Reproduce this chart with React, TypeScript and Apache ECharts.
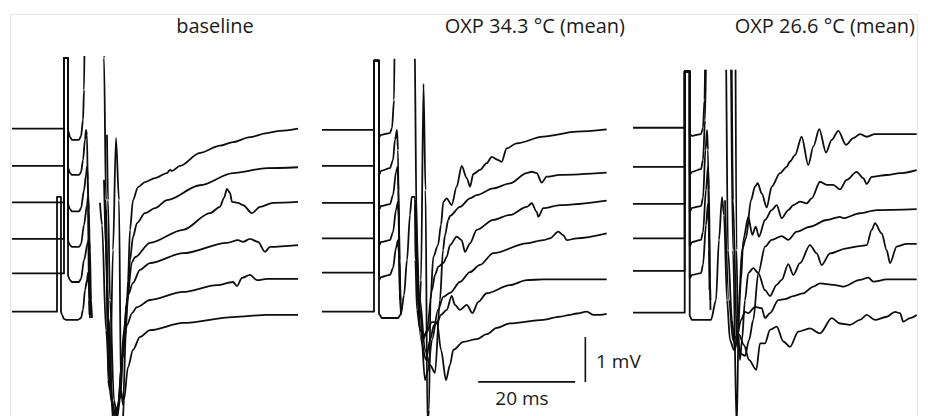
import React, { useEffect, useRef } from "react";
import * as echarts from "echarts";

type Pt = [number, number] | null;

// Panel titles
const PANEL_TITLES = ["baseline", "OXP 34.3 °C (mean)", "OXP 26.6 °C (mean)"];

// Time axis (ms) and voltage axis (mV) extents per panel
const X_MAX_MS = 59;
const Y_MIN_MV = -2.8;
const Y_MAX_MV = [5.66, 5.6, 5.38];

// Scale bar (drawn in panel 2 units)
const SCALE_MS = 20;
const SCALE_MV = 1;
const SCALE_ORIGIN: [number, number] = [32.2, -1.56];
const SCALE_GAP_MS = 2.1;

// ---------------- Panel 1: baseline ----------------
const P1_A: Pt[] = [[0,4.07],[10.72,4.07],[10.72,5.64],[11.55,5.64],[11.55,4.03],[11.96,3.88],[12.37,3.82],[13.81,3.82],[14.23,3.9],[14.64,4.26],[14.85,4.93],[15.05,7],[18.76,7],[18.97,5.64],[19.38,2.48],[19.79,-1.52],[20.21,-1.74],[20.82,1.37],[21.44,3.86],[22.06,2.48],[22.47,-1.74],[22.89,-2.07],[23.51,-0.41],[23.92,0.7],[24.33,1.82],[24.95,2.48],[25.98,2.77],[27.42,2.88],[29.48,2.97],[31.96,3.08],[32.58,3.15],[33.0,3.13],[34.64,3.24],[38.76,3.53],[42.89,3.69],[45.57,3.77],[49.07,3.88],[52.58,3.97],[55.26,4.02],[58.97,4.07]];
const P1_B: Pt[] = [[0,3.24],[10.72,3.24],[10.72,5.64],[11.55,5.64],[11.55,3.2],[11.96,3.08],[12.37,3.04],[13.81,3.04],[14.23,3.1],[14.64,3.37],[15.05,3.82],[15.26,4.04],[15.46,3.93],[15.67,2.48],[15.88,0.26],[15.98,-0.07],null,[19.59,3.93],[19.79,2.48],[20.21,0.26],[21.03,-1.96],[21.65,-2.36],[22.27,-1.96],[23.09,-0.63],[23.71,0.04],[24.33,1.15],[24.95,1.66],[25.77,1.97],[27.42,2.19],[29.48,2.3],[31.96,2.48],[38.76,2.81],[45.57,3.08],[52.58,3.19],[58.97,3.21]];
const P1_C: Pt[] = [[0,2.43],[10.72,2.43],[10.72,5.64],[11.55,5.64],[11.55,2.39],[11.96,2.28],[12.37,2.23],[13.81,2.23],[14.23,2.3],[14.85,2.7],[15.26,3.04],[15.46,3.22],[15.67,2.93],[15.88,1.37],[16.08,-0.07],null,[18.14,2.42],[18.56,1.93],[19.38,-0.41],[20.41,-1.96],[21.24,-2.29],[21.86,-2.07],[22.68,-1.07],[23.71,0.26],[24.74,1.1],[25.36,1.21],[28.45,1.53],[35.26,1.82],[40.82,2.19],[42.89,2.33],[43.71,2.53],[44.33,2.73],[44.95,2.64],[45.36,2.44],[46.6,2.42],[47.63,2.37],[49.48,2.19],[51.13,2.33],[53.81,2.42],[58.97,2.44]];
const P1_D: Pt[] = [[0,1.62],[10.72,1.62],[10.72,5.64],[11.55,5.64],[11.55,1.57],[11.96,1.48],[12.37,1.44],[13.81,1.44],[14.23,1.5],[14.85,1.93],[15.46,2.37],[15.67,2.55],[15.88,2.26],[16.08,0.7],[16.29,-0.07],null,[18.97,2.93],[19.38,1.37],[19.79,-0.41],[20.82,-2.18],[21.44,-2.52],[22.06,-1.96],[23.09,-0.41],[23.92,0.37],[24.95,0.64],[26.39,0.93],[28.45,1.08],[35.26,1.3],[44.33,1.53],[46.6,1.59],[47.63,1.55],[49.07,1.62],[50.72,1.55],[52.16,1.33],[53.2,1.44],[58.97,1.48]];
const P1_E: Pt[] = [[0,0.85],[10.72,0.85],[10.72,5.64],[11.55,5.64],[11.55,0.8],[11.96,0.7],[12.37,0.66],[13.81,0.66],[14.23,0.73],[14.85,1.15],[15.67,1.55],[15.88,1.62],[16.08,1.37],[16.29,0.26],[16.49,-0.14],null,[19.18,2.48],[19.59,0.7],[20.21,-1.52],[21.03,-2.63],[21.86,-2.18],[22.68,-1.07],[23.71,-0.3],[24.74,-0.03],[25.77,0.1],[28.45,0.26],[35.26,0.44],[42.27,0.59],[45.57,0.66],[46.39,0.57],[47.42,0.75],[49.07,0.82],[50.52,0.7],[52.58,0.73],[58.97,0.73]];
const P1_F: Pt[] = [[0,0],[9.28,0],[9.28,2.55],[10.1,2.55],[10.1,0],[10.31,-0.07],[10.72,-0.16],[11.13,-0.18],[13.61,-0.18],[14.23,-0.14],[14.64,0.04],[15.05,0.48],[15.46,0.7],[15.67,0.86],[15.88,0.48],[16.08,-0.14],null,[19.38,2.26],[20.0,-0.18],[20.62,-1.96],[21.65,-2.58],[22.68,-2.85],[23.09,-1.96],[23.92,-1.23],[24.95,-0.85],[26.39,-0.56],[28.45,-0.41],[35.26,-0.25],[45.57,-0.12],[52.58,-0.07],[58.97,-0.07]];

// ---------------- Panel 2: OXP 34.3 °C ----------------
const P2_A: Pt[] = [[0,4.04],[10.72,4.04],[10.72,5.58],[11.75,5.58],[11.75,3.88],[12.16,3.93],[14.02,3.97],[14.43,4.08],[14.85,4.7],[15.05,7],[18.97,7],[19.59,1.37],[20.0,-0.18],[20.41,0.7],[20.93,5.06],[21.34,2.7],[21.75,-2.52],[22.06,-2.18],[22.37,0.26],[22.95,1.22],[23.92,1.48],[24.54,1.93],[25.01,2.44],[25.71,2.52],[26.74,2.37],[27.77,2.78],[28.8,3.24],[29.84,2.97],[30.52,2.78],[31.2,3.06],[32.58,3.15],[33.96,3.3],[35.0,3.44],[36.35,3.37],[37.05,3.33],[38.08,3.63],[40.14,3.74],[45.63,3.89],[52.52,4.0],[58.7,4.05]];
const P2_B: Pt[] = [[0,3.24],[10.72,3.24],[10.72,5.58],[11.75,5.58],[11.75,3.04],[12.16,3.13],[14.02,3.19],[14.64,3.37],[15.05,3.82],[15.46,4.04],[15.67,3.59],[15.88,1.37],[16.08,0.26],null,[19.38,2.48],[20.21,0.26],[21.24,-0.85],[22.27,-1.18],[23.3,-1.36],[24.33,0.26],[24.95,1.37],[25.36,1.7],[26.04,2.04],[26.39,2.13],[28.45,2.33],[30.52,2.52],[31.9,2.59],[35.32,2.74],[38.76,2.85],[42.21,3.08],[43.24,3.11],[44.27,3.08],[45.3,2.87],[46.33,3.0],[49.07,3.04],[58.7,3.09]];
const P2_C: Pt[] = [[0,2.42],[10.72,2.42],[10.72,5.58],[11.75,5.58],[11.75,2.26],[12.16,2.35],[14.02,2.39],[14.64,2.59],[15.26,3.1],[15.57,3.22],[15.77,2.7],[15.98,1.15],[16.19,0.26],null,[19.18,2.37],[20.21,0.04],[20.82,-0.63],[21.65,-0.41],[22.68,0.48],[23.3,0.82],[23.98,1.0],[25.01,1.08],[25.71,1.22],[26.39,1.48],[27.77,1.67],[28.8,1.59],[29.48,1.33],[30.52,1.52],[31.9,1.82],[35.32,2.04],[38.76,2.15],[42.21,2.33],[43.24,2.41],[44.27,2.22],[44.6,2.11],[45.63,2.3],[49.07,2.37],[58.7,2.47]];
const P2_D: Pt[] = [[0,1.63],[10.72,1.63],[10.72,5.58],[11.75,5.58],[11.75,1.46],[12.16,1.55],[14.02,1.59],[14.64,1.77],[15.26,2.26],[15.67,2.44],[15.88,2.04],[16.08,0.48],[16.29,0.04],null,[19.38,1.59],[20.41,-0.41],[21.24,-1.52],[21.86,-1.3],[22.68,-0.63],[23.92,0.04],[25.01,0.33],[26.39,0.42],[28.45,0.66],[30.52,0.88],[32.58,1.04],[35.32,1.3],[42.21,1.52],[45.63,1.59],[47.01,1.63],[48.72,1.78],[49.75,1.7],[50.45,1.59],[52.52,1.63],[58.7,1.74]];
const P2_E: Pt[] = [[0,0.87],[10.72,0.87],[10.72,5.58],[11.75,5.58],[11.75,0.7],[12.16,0.77],[14.02,0.82],[14.64,0.97],[15.26,1.42],[15.67,1.59],[15.88,1.26],[16.08,0.26],[16.29,-0.07],null,[19.38,1.37],[20.41,-0.63],[21.44,-1.07],[22.27,-0.63],[23.09,-0.3],[23.65,-0.26],[24.54,-0.07],[25.71,0.04],[26.74,0.35],[27.42,0.15],[28.45,0.04],[29.84,0.15],[31.03,-0.03],[32.23,0.22],[33.96,0.41],[38.76,0.59],[42.21,0.7],[45.63,0.72],[58.7,0.72]];
const P2_F: Pt[] = [[0,0],[10.72,0],[10.72,5.58],[11.75,5.58],[11.75,-0.05],[12.37,-0.14],[15.67,-0.14],[16.29,-0.05],[16.91,0.37],[17.53,1.15],[18.14,2.15],[18.49,2.55],[19.18,2.55],[19.24,1.15],[19.59,0.04],[20.21,-0.41],[21.24,-0.52],[22.68,-0.23],[23.71,-0.23],[24.54,-0.85],[25.57,-1.52],[26.39,-1.18],[27.07,-0.85],[29.13,-0.67],[31.9,-0.61],[33.96,-0.5],[36.02,-0.36],[38.76,-0.26],[45.63,-0.18],[49.07,-0.11],[51.13,-0.07],[52.52,-0.04],[54.58,0],[55.95,-0.07],[57.32,-0.07],[58.7,-0.05]];

// ---------------- Panel 3: OXP 26.6 °C ----------------
const P3_A: Pt[] = [[0,4.11],[10.66,4.11],[10.66,5.36],[11.69,5.36],[11.69,3.97],[12.16,3.93],[14.02,3.97],[14.43,4.1],[14.74,4.73],[15.05,7],[20.0,7],[20.62,1.39],[21.38,-2.61],[21.86,0.28],[22.47,1.39],[23.3,1.66],[24.33,2.5],[25.15,2.8],[25.71,2.88],[26.54,2.65],[27.57,2.34],[28.6,2.8],[30.31,3.1],[31.69,3.24],[32.37,3.36],[33.4,3.5],[34.78,3.91],[36.14,3.28],[37.18,3.69],[38.41,4.08],[39.79,3.56],[40.97,3.84],[42.33,4.04],[43.92,3.73],[45.42,3.88],[46.8,3.97],[48.19,3.91],[49.9,3.97],[58.49,3.97]];
const P3_B: Pt[] = [[0,3.24],[10.66,3.24],[10.66,5.36],[11.69,5.36],[11.69,3.06],[12.16,3.13],[14.02,3.19],[14.43,3.39],[14.85,4.28],[15.26,7],[19.03,7],[19.59,1.39],[20.41,-0.16],[21.03,-0.83],[21.65,-0.38],[22.27,0.73],[22.74,1.62],[23.77,2.13],[24.6,1.73],[25.3,1.91],[25.98,1.69],[27.22,2.06],[28.6,2.28],[29.63,2.39],[30.66,2.1],[32.02,2.28],[33.05,2.39],[34.43,2.47],[35.81,2.43],[36.85,2.54],[38.56,2.91],[39.94,2.84],[41.3,2.84],[42.68,2.74],[44.06,2.95],[46.12,3.13],[47.48,2.99],[48.19,2.86],[49.22,3.02],[52.31,3.06],[55.05,3.1],[58.49,3.17]];
const P3_C: Pt[] = [[0,2.42],[10.66,2.42],[10.66,5.36],[11.69,5.36],[11.69,2.24],[12.16,2.33],[14.02,2.37],[14.43,2.55],[14.95,3.62],[15.26,4.06],[15.46,3.62],[15.67,1.39],[15.77,0.5],null,[20.27,7],[20.62,2.5],[21.44,-0.61],[22.06,-0.9],[23.09,-0.96],[23.92,-0.61],[24.8,-0.16],[25.84,0.88],[27.22,1.47],[28.6,1.62],[30.66,1.7],[32.02,1.62],[33.75,1.8],[36.49,1.91],[39.94,2.06],[42.68,2.13],[43.36,2.1],[46.8,2.21],[50.25,2.28],[58.49,2.3]];
const P3_D: Pt[] = [[0,1.65],[10.66,1.65],[10.66,5.36],[11.69,5.36],[11.69,1.48],[12.16,1.57],[14.02,1.62],[14.43,1.79],[15.05,2.73],[15.46,3.24],[15.67,2.73],[15.88,0.73],[15.98,0.28],null,[21.09,7],[21.34,1.39],[21.65,-0.38],[22.06,-1.05],[22.47,-0.61],[23.09,0.28],[23.77,0.88],[24.8,0.99],[25.84,0.88],[27.22,0.5],[28.25,0.37],[29.63,0.62],[30.66,0.73],[32.02,1.08],[33.05,0.84],[34.43,1.1],[36.49,1.5],[37.88,1.32],[38.91,1.06],[40.62,1.32],[44.06,1.43],[46.8,1.48],[48.19,1.5],[49.22,1.84],[49.9,1.99],[51.28,1.76],[52.31,1.39],[52.99,1.1],[54.37,1.47],[56.43,1.53],[58.49,1.53]];
const P3_E: Pt[] = [[0,0.93],[10.66,0.93],[10.66,5.36],[11.69,5.36],[11.69,0.77],[12.16,0.84],[14.02,0.88],[14.43,1.06],[15.05,1.95],[15.46,2.42],[15.67,1.95],[15.88,0.5],[15.98,0.06],null,[18.97,2.5],[19.79,0.28],[20.62,-0.61],[21.44,-0.52],[22.27,-0.16],[23.09,0.02],[23.77,-0.01],[25.15,0.13],[26.54,0.1],[27.22,-0.12],[28.25,-0.01],[29.96,0.28],[31.34,0.3],[33.05,0.37],[35.11,0.43],[37.18,0.58],[38.56,0.65],[41.3,0.62],[43.36,0.58],[46.8,0.73],[48.52,0.78],[49.55,0.69],[52.31,0.74],[58.49,0.74]];
const P3_F: Pt[] = [[0,0],[10.66,0],[10.66,5.36],[11.69,5.36],[11.69,-0.07],[12.16,-0.16],[16.08,-0.16],[17.11,0.28],[17.73,1.62],[18.35,2.57],[18.76,2.17],[19.38,0.28],[20.0,-0.61],[20.82,-0.83],[21.86,-0.49],[22.89,-0.72],[23.92,-1.05],[25.42,-1.27],[26.19,-0.68],[27.22,-0.68],[28.25,-0.38],[29.63,-0.31],[30.99,-0.64],[32.37,-0.76],[34.08,-0.42],[36.49,-0.35],[38.56,-0.46],[40.97,-0.12],[42.68,-0.24],[44.74,-0.27],[46.8,-0.16],[48.19,-0.05],[49.9,-0.16],[52.31,-0.09],[54.02,0.02],[55.05,-0.01],[55.73,-0.2],[57.11,-0.12],[58.49,-0.05]];

const PANEL_TRACES: Pt[][][] = [
  [P1_A, P1_B, P1_C, P1_D, P1_E, P1_F],
  [P2_A, P2_B, P2_C, P2_D, P2_E, P2_F],
  [P3_A, P3_B, P3_C, P3_D, P3_E, P3_F],
];

// Layout (pixels)
const PX_PER_MS = 4.85;
const PX_PER_MV = 45;
const PANEL_LEFT = [12, 322, 633];
const PANEL_ZERO_Y = [311.7, 311.7, 312.7];
const TITLE_POS = [
  { x: 215, y: 25, align: "center" },
  { x: 625, y: 25, align: "right" },
  { x: 915, y: 25, align: "right" },
];

const TRACE_COLOR = "#0d0d0d";
const FONT = '"Open Sans", "Noto Sans", sans-serif';

export default function App() {
  const ref = useRef<HTMLDivElement>(null);

  useEffect(() => {
    if (!ref.current) return;
    const chart = echarts.init(ref.current, undefined, { renderer: "svg" });

    const grids = PANEL_LEFT.map((left, i) => ({
      left,
      top: PANEL_ZERO_Y[i] - Y_MAX_MV[i] * PX_PER_MV,
      width: X_MAX_MS * PX_PER_MS,
      height: (Y_MAX_MV[i] - Y_MIN_MV) * PX_PER_MV,
      containLabel: false,
    }));
    const xAxes = PANEL_LEFT.map((_, i) => ({
      type: "value" as const,
      gridIndex: i,
      min: 0,
      max: X_MAX_MS,
      show: false,
    }));
    const yAxes = PANEL_LEFT.map((_, i) => ({
      type: "value" as const,
      gridIndex: i,
      min: Y_MIN_MV,
      max: Y_MAX_MV[i],
      show: false,
    }));

    const toData = (tr: Pt[]) => tr.map((p) => (p ? p : [null, null]));

    const series: any[] = [];
    PANEL_TRACES.forEach((traces, p) => {
      traces.forEach((tr) => {
        series.push({
          type: "line",
          xAxisIndex: p,
          yAxisIndex: p,
          data: toData(tr),
          symbol: "none",
          showSymbol: false,
          connectNulls: false,
          clip: true,
          silent: true,
          smooth: 0.3,
          smoothMonotone: "x",
          lineStyle: { color: TRACE_COLOR, width: 1.8, join: "round" },
        });
      });
    });

    const [ox, oy] = SCALE_ORIGIN;
    series.push({
      type: "line",
      xAxisIndex: 1,
      yAxisIndex: 1,
      data: [
        [ox, oy],
        [ox + SCALE_MS, oy],
        [null, null],
        [ox + SCALE_MS + SCALE_GAP_MS, oy],
        [ox + SCALE_MS + SCALE_GAP_MS, oy + SCALE_MV],
      ],
      symbol: "none",
      showSymbol: false,
      connectNulls: false,
      clip: false,
      silent: true,
      lineStyle: { color: TRACE_COLOR, width: 1.6 },
    });

    const titleTexts = PANEL_TITLES.map((t, i) => ({
      type: "text",
      x: TITLE_POS[i].x,
      y: TITLE_POS[i].y,
      silent: true,
      style: {
        text: t,
        font: `20px ${FONT}`,
        fill: "#1a1a1a",
        align: TITLE_POS[i].align,
        textAlign: TITLE_POS[i].align,
        verticalAlign: "middle",
        textVerticalAlign: "middle",
      },
    }));

    chart.setOption({
      animation: false,
      backgroundColor: "#ffffff",
      grid: grids,
      xAxis: xAxes,
      yAxis: yAxes,
      series,
      graphic: [
        {
          type: "rect",
          silent: true,
          shape: { x: 10.5, y: 14.5, width: 907, height: 440 },
          style: { fill: "none", stroke: "#e4e4e4", lineWidth: 1 },
        },
        ...titleTexts,
        {
          type: "text",
          x: 522,
          y: 398,
          silent: true,
          style: {
            text: `${SCALE_MS} ms`,
            font: `19px ${FONT}`,
            fill: "#1a1a1a",
            align: "center",
            textAlign: "center",
            verticalAlign: "middle",
            textVerticalAlign: "middle",
          },
        },
        {
          type: "text",
          x: 596,
          y: 361,
          silent: true,
          style: {
            text: `${SCALE_MV} mV`,
            font: `19px ${FONT}`,
            fill: "#1a1a1a",
            align: "left",
            textAlign: "left",
            verticalAlign: "middle",
            textVerticalAlign: "middle",
          },
        },
      ],
    });

    return () => chart.dispose();
  }, []);

  return (
    <div
      ref={ref}
      style={{ position: "fixed", left: 0, top: 0, width: 928, height: 470, background: "#fff" }}
    />
  );
}
